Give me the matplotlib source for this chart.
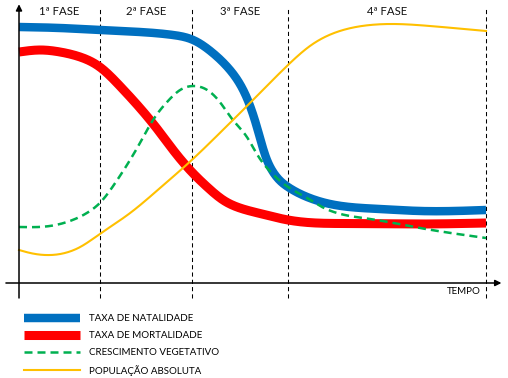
import numpy as np
import matplotlib
matplotlib.use('Agg')
import matplotlib.pyplot as plt

# tempo (0-100, fim da 4a fase = 100) e valor (unidade arbitraria)
natal_t = [0, 8.8, 17.3, 25.9, 33.0, 37.3, 41.5, 45.0, 47.3, 49.4, 51.0, 52.7, 54.4, 57.6, 61.7, 66.6, 77.3, 85.9, 100]
natal_v = [102.4, 102, 101.2, 100.4, 99.2, 97.2, 92, 85.6, 79.6, 71.2, 62, 51.2, 44.4, 38.4, 34.4, 31.6, 29.6, 28.8, 29.2]

mort_t = [0, 4.5, 8.8, 13.1, 17.3, 21.6, 25.9, 29.6, 33.0, 37.0, 40.3, 43.7, 47.3, 51.6, 57.6, 70.9, 85.9, 100]
mort_v = [92.4, 93.2, 92.4, 90.4, 86.4, 78.8, 70, 61.6, 53.2, 44.4, 38.4, 33.2, 30, 27.8, 25.2, 23.8, 23.6, 24]

cresc_t = [0, 6.6, 10.9, 15.2, 17.3, 20.6, 25.9, 28.7, 31.7, 34.5, 37.3, 40.3, 43.0, 45.8, 48.8, 51.2, 53.7, 57.6, 61.7, 64.5, 75.2, 85.9, 100]
cresc_v = [22.4, 22.8, 24.8, 28.8, 32, 40, 56, 65.2, 72.4, 77.2, 78.8, 77.2, 72.4, 65.2, 58.4, 50.8, 44.8, 38.4, 34, 30.8, 25.6, 22, 18]

pop_t = [0, 2.4, 5.6, 10.9, 13.1, 17.3, 23.8, 30.2, 37.0, 43.0, 50.1, 57.6, 62.3, 68.7, 75.2, 79.4, 88.0, 100]
pop_v = [13.2, 12, 11.2, 12.6, 14.4, 19.6, 28, 38, 49.2, 60, 73.2, 87.2, 94.8, 100.8, 103.2, 103.6, 102.8, 100.8]

fases = ['1ª FASE', '2ª FASE', '3ª FASE', '4ª FASE']
limites = [0, 17.3, 37.0, 57.6, 100]
labels = ['TAXA DE NATALIDADE', 'TAXA DE MORTALIDADE', 'CRESCIMENTO VEGETATIVO', 'POPULAÇÃO ABSOLUTA']

plt.rcParams['font.family'] = ['Lato', 'DejaVu Sans']


def smooth(x, y, n=600):
    # spline cubica natural pelos pontos lidos, so para desenhar liso
    x = np.asarray(x, float)
    y = np.asarray(y, float)
    k = len(x)
    h = np.diff(x)
    A = np.zeros((k, k))
    b = np.zeros(k)
    A[0, 0] = A[-1, -1] = 1
    for j in range(1, k - 1):
        A[j, j - 1] = h[j - 1]
        A[j, j] = 2 * (h[j - 1] + h[j])
        A[j, j + 1] = h[j]
        b[j] = 6 * ((y[j + 1] - y[j]) / h[j] - (y[j] - y[j - 1]) / h[j - 1])
    M = np.linalg.solve(A, b)
    xs = np.linspace(x[0], x[-1], n)
    i = np.clip(np.searchsorted(x, xs) - 1, 0, k - 2)
    a = x[i + 1] - xs
    c = xs - x[i]
    hi = h[i]
    ys = (M[i] * a**3 / (6 * hi) + M[i + 1] * c**3 / (6 * hi)
          + (y[i] / hi - M[i] * hi / 6) * a + (y[i + 1] / hi - M[i + 1] * hi / 6) * c)
    return xs, ys


fig = plt.figure(figsize=(5.08, 3.78), dpi=100)
ax = fig.add_axes([0, 0, 1, 1])
ax.set_xlim(-4.07, 104.71)
ax.set_ylim(-38, 113.2)
ax.axis('off')

# fases
for xv in limites[1:]:
    ax.plot([xv, xv], [-6, 110], color='black', lw=0.75, dashes=(4, 3))
for i, f in enumerate(fases):
    ax.text((limites[i] + limites[i + 1]) / 2, 108.6, f, ha='center', va='center', fontsize=8.2, color='#111111')

# eixos
ax.annotate('', xy=(0, 111.5), xytext=(0, -6),
            arrowprops=dict(arrowstyle='-|>', lw=1.1, color='black', mutation_scale=9, shrinkA=0, shrinkB=0))
ax.annotate('', xy=(103.3, 0), xytext=(-2.8, 0),
            arrowprops=dict(arrowstyle='-|>', lw=1.1, color='black', mutation_scale=9, shrinkA=0, shrinkB=0))
ax.text(98.8, -3.6, 'TEMPO', ha='right', va='center', fontsize=7)

x, y = smooth(natal_t, natal_v)
ax.plot(x, y, color='#0070C0', lw=6.1, solid_capstyle='butt', label=labels[0])
x, y = smooth(mort_t, mort_v)
ax.plot(x, y, color='#FF0000', lw=6.5, solid_capstyle='butt', label=labels[1])
x, y = smooth(cresc_t, cresc_v)
ax.plot(x, y, color='#00B050', lw=1.8, dashes=(3.2, 2), label=labels[2])
x, y = smooth(pop_t, pop_v)
ax.plot(x, y, color='#FFC000', lw=1.5, label=labels[3])

ax.legend(loc='upper left', bbox_to_anchor=(0.047, 0.168), frameon=False, fontsize=7,
          borderpad=0, borderaxespad=0, handlelength=5.8, handletextpad=0.85, labelspacing=0.8)

fig.savefig('out.png', dpi=100)
